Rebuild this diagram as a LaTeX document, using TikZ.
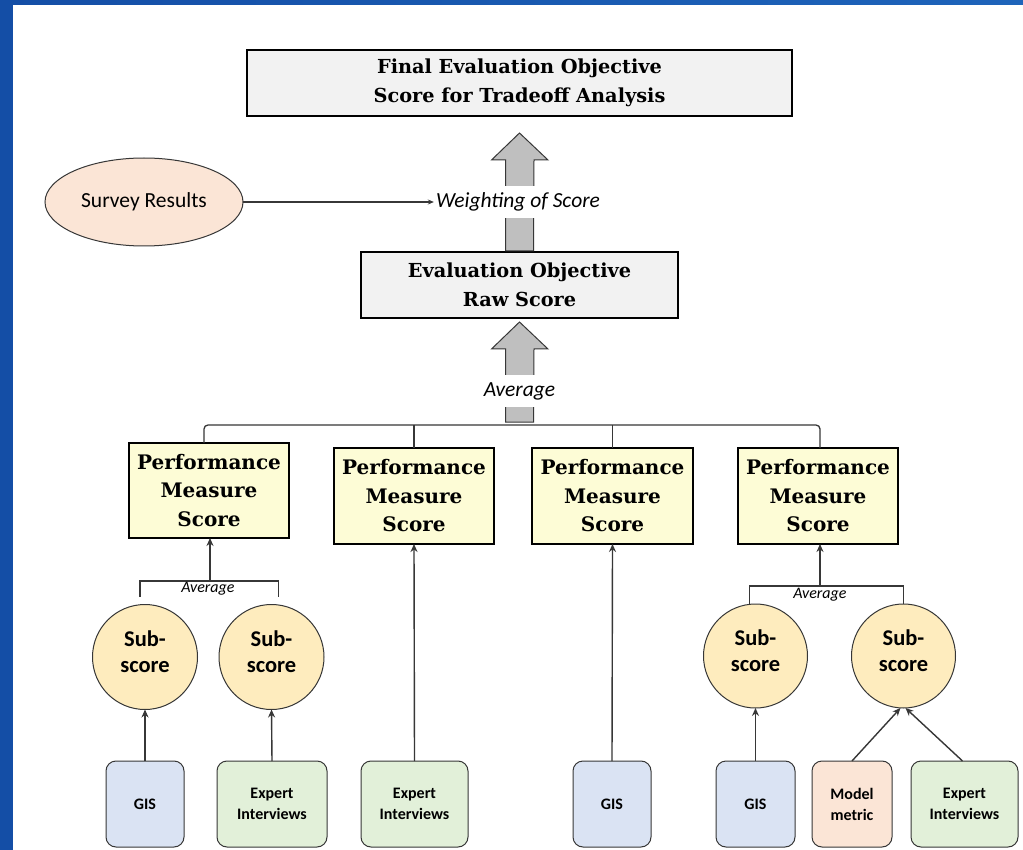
\documentclass[tikz,border=0pt]{standalone}
\usepackage{fontspec}
\setmainfont{DejaVu Serif}
\newfontfamily\carl{Carlito}
\usetikzlibrary{arrows.meta,calc,shapes.geometric}
\definecolor{frameblue}{RGB}{20,78,166}
\definecolor{frameblueR}{RGB}{30,100,186}
\definecolor{boxgray}{RGB}{242,242,242}
\definecolor{pmyellow}{RGB}{253,252,214}
\definecolor{subfill}{RGB}{254,236,190}
\definecolor{peach}{RGB}{251,229,214}
\definecolor{gisblue}{RGB}{218,227,243}
\definecolor{expgreen}{RGB}{226,240,217}
\definecolor{linegray}{RGB}{55,55,55}
\definecolor{arrowgray}{RGB}{191,191,191}
\tikzset{
  bigbox/.style={draw=black, line width=2.6pt, fill=boxgray, outer sep=0pt, inner sep=0pt, align=center, font=\fontsize{19.3}{29}\selectfont\bfseries},
  pmbox/.style={bigbox, fill=pmyellow, minimum width=160, minimum height=95, font=\fontsize{20}{28.5}\selectfont\bfseries},
  subc/.style={circle, draw=linegray, line width=1pt, fill=subfill, minimum size=105, inner sep=0pt, outer sep=0pt, align=center, text depth=10pt, font={\carl\bfseries\fontsize{22.5}{26}\selectfont}},
  src/.style={rounded corners=10, draw=linegray, line width=1pt, minimum height=86, inner sep=0pt, outer sep=0pt, align=center, font={\carl\bfseries\fontsize{16}{21}\selectfont}},
  conn/.style={draw=linegray, line width=1.4pt, -{Stealth[length=8pt,width=7pt]}},
  plain/.style={draw=linegray, line width=1.3pt},
  blockarrow/.style={draw=linegray, line width=1pt, fill=arrowgray, line join=miter},
  lbl/.style={fill=white, inner xsep=2pt, inner ysep=7pt, font={\carl\itshape\fontsize{21.5}{25}\selectfont}},
  smalllbl/.style={inner sep=1pt, font={\carl\itshape\fontsize{16}{18}\selectfont}}
}
\begin{document}
\begin{tikzpicture}[x=1pt,y=-1pt]
\useasboundingbox (0,0) rectangle (1023,850);
\fill[white] (0,0) rectangle (1023,850);
\shade[left color=frameblue, right color=frameblueR] (0,0) rectangle (1023,5);
\fill[frameblue] (0,0) rectangle (13,850);

% main boxes
\node[bigbox, minimum width=545, minimum height=66] (top) at (519.5,83) {Final Evaluation Objective\\Score for Tradeoff Analysis};
\node[bigbox, minimum width=317, minimum height=66] (raw) at (519.5,285) {Evaluation Objective\\Raw Score};

% block arrows
\draw[blockarrow] ($(raw.north)+(-14,-1)$) -- ++(0,-91) -- ++(-14,0) -- ($(top.south)+(0,17)$) -- ($(raw.north)+(28.5,-92)$) -- ++(-14,0) -- ($(raw.north)+(14,-1)$) -- cycle;
\coordinate (bar) at (519.5,425);
\draw[blockarrow] ($(bar)+(-14,-3)$) -- ($(raw.south)+(-14,31)$) -- ++(-14,0) -- ($(raw.south)+(0,4)$) -- ($(raw.south)+(28.5,31)$) -- ++(-14,0) -- ($(bar)+(14,-3)$) -- cycle;

\node[lbl] (weight) at (518,202) {Weighting of Score};
\node[lbl] (avg) at (519.5,391) {Average};

% survey
\node[ellipse, draw=linegray, line width=1pt, fill=peach, minimum width=198, minimum height=88, inner sep=0pt, outer sep=0pt, font={\carl\fontsize{21.5}{25}\selectfont}] (survey) at (144,202) {Survey Results};
\draw[conn, -{Stealth[length=6pt,width=5pt]}, line width=1.1pt] (survey.east) -- (weight.west);

% performance measure boxes
\node[pmbox] (pm1) at (209,490.5) {Performance\\Measure\\Score};
\node[pmbox, minimum height=96] (pm2) at (414,496) {Performance\\Measure\\Score};
\node[pmbox, minimum height=96, minimum width=161] (pm3) at (612.5,496) {Performance\\Measure\\Score};
\node[pmbox, minimum height=96] (pm4) at (818,496) {Performance\\Measure\\Score};

% bar to PM boxes
\draw[plain, rounded corners=4] ($(pm1.north)+(-5,0)$) -- ($(pm1.north |- bar)+(-5,0)$) -- ($(pm4.north |- bar)+(2,0)$) -- ($(pm4.north)+(2,0)$);
\draw[plain] (pm2.north) -- (pm2.north |- bar);
\draw[plain] (pm3.north) -- (pm3.north |- bar);

% sub-scores
\node[subc] (s1) at (145,657) {Sub-\\score};
\node[subc] (s2) at (271.5,657) {Sub-\\score};
\node[subc, minimum size=104] (s3) at (755.5,656) {Sub-\\score};
\node[subc, minimum size=104] (s4) at (903.5,656) {Sub-\\score};

% brackets
\coordinate (b1) at (210,581);
\draw[plain, line width=1.1pt] ($(s1.north)+(-5,-8)$) |- (b1) -| ($(s2.north)+(7,-8)$);
\draw[conn] (b1) -- (pm1.south -| b1);
\node[smalllbl] (avg1) at (208,589) {Average};
\coordinate (b2) at (820,586);
\draw[plain, line width=1.1pt] ($(s3.north)+(-6,0)$) |- (b2) -| (s4.north);
\draw[conn] (b2) -- (pm4.south -| b2);
\node[smalllbl] (avg2) at (820,595) {Average};

% sources
\node[src, fill=gisblue, minimum width=78] (g1) at (145,804) {GIS};
\node[src, fill=expgreen, minimum width=110] (e1) at (272,804) {Expert\\Interviews};
\node[src, fill=expgreen, minimum width=107] (e2) at (414.5,804) {Expert\\Interviews};
\node[src, fill=gisblue, minimum width=78] (g2) at (612,804) {GIS};
\node[src, fill=gisblue, minimum width=79] (g3) at (755.5,804) {GIS};
\node[src, fill=peach, minimum width=80] (m1) at (852,804) {Model\\metric};
\node[src, fill=expgreen, minimum width=107] (e3) at (964.5,804) {Expert\\Interviews};

% source connectors
\draw[conn] (g1.north) -- (s1.south);
\draw[conn] (e1.north) -- (s2.south);
\draw[conn] (e2.north) -- (pm2.south);
\draw[conn] (g2.north) -- (pm3.south);
\draw[conn] (g3.north) -- (s3.south);
\draw[conn] (m1.north) -- ($(s4.south)+(-3,0)$);
\draw[conn] ($(e3.north)+(-2,0)$) -- ($(s4.south)+(2,0)$);
\end{tikzpicture}
\end{document}
